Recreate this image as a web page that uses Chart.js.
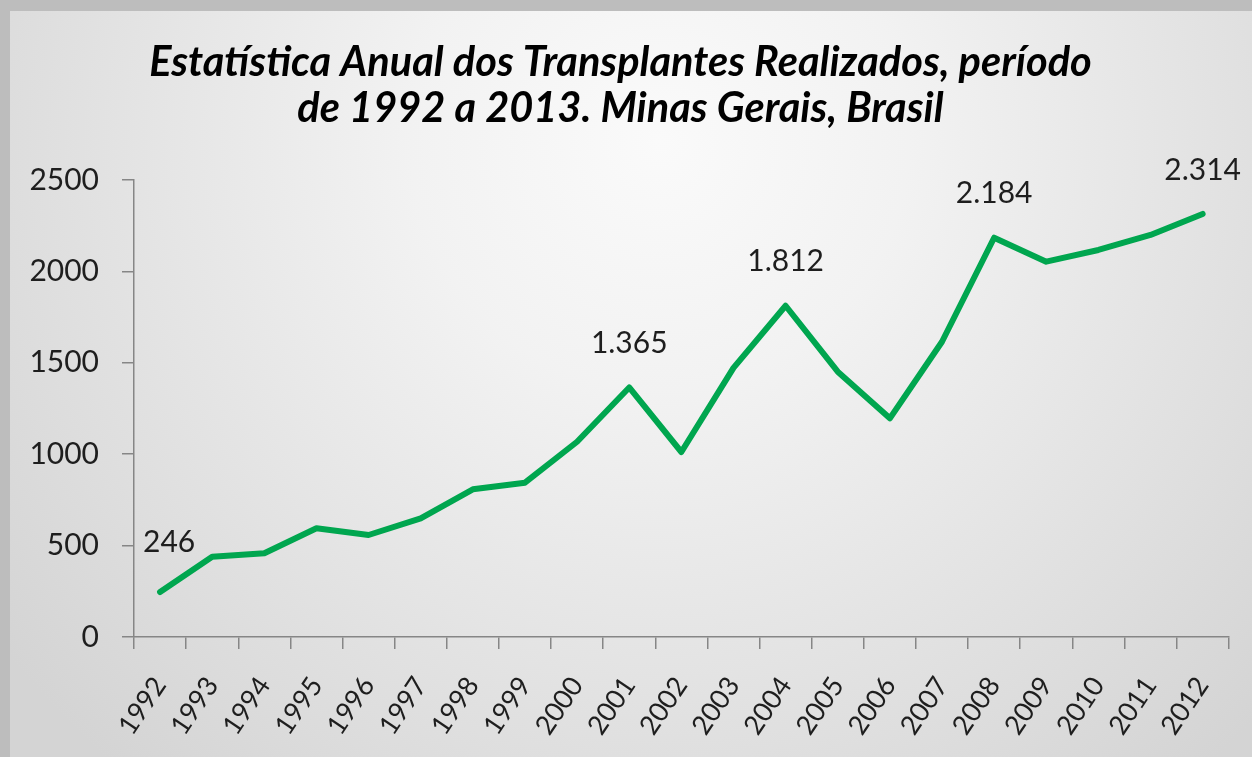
<!DOCTYPE html>
<html>
<head>
<meta charset="utf-8">
<script src="https://cdn.jsdelivr.net/npm/chart.js@4.4.1/dist/chart.umd.min.js"></script>
<style>
  html, body { margin: 0; padding: 0; width: 1252px; height: 757px; overflow: hidden; background: #bdbdbd; }
  #wrap { position: absolute; left: 10px; top: 11px; width: 1242px; height: 746px; }
</style>
</head>
<body>
<div id="wrap"><canvas id="c" width="1242" height="746"></canvas></div>
<script>
const titleLines = ["Estatística Anual dos Transplantes Realizados, período", "de 1992 a 2013. Minas Gerais, Brasil"];
const years = ["1992","1993","1994","1995","1996","1997","1998","1999","2000","2001","2002","2003","2004","2005","2006","2007","2008","2009","2010","2011","2012"];
const transplants = [246, 439, 458, 595, 558, 649, 808, 844, 1068, 1365, 1012, 1472, 1812, 1451, 1196, 1615, 2184, 2053, 2117, 2199, 2314];
const labelledYears = ["1992", "2001", "2004", "2008", "2012"];
const yTicks = [0, 500, 1000, 1500, 2000, 2500];

function fmtPt(v) {
  return String(v).replace(/\B(?=(\d{3})+(?!\d))/g, ".");
}

const bgPlugin = {
  id: 'bg',
  beforeDraw(chart) {
    const ctx = chart.ctx;
    const w = chart.width, h = chart.height;
    const g = ctx.createRadialGradient(650, 130, 0, 650, 130, 830);
    g.addColorStop(0, '#fafafa');
    g.addColorStop(0.3, '#f2f2f2');
    g.addColorStop(1, '#d4d4d4');
    ctx.save();
    ctx.fillStyle = g;
    ctx.fillRect(0, 0, w, h);
    ctx.restore();
  }
};

const labelPlugin = {
  id: 'pointLabels',
  afterDatasetsDraw(chart) {
    const ctx = chart.ctx;
    const meta = chart.getDatasetMeta(0);
    const area = chart.chartArea;
    ctx.save();
    ctx.font = '30px Lato';
    ctx.fillStyle = '#1e1e1e';
    ctx.textAlign = 'center';
    ctx.textBaseline = 'middle';
    labelledYears.forEach(y => {
      const i = years.indexOf(y);
      const el = meta.data[i];
      const txt = fmtPt(transplants[i]);
      const tw = ctx.measureText(txt).width;
      let x = Math.max(el.x, area.left + tw / 2 + 9);
      const dy = x !== el.x ? 50 : 44;
      ctx.fillText(txt, x, el.y - dy);
    });
    ctx.restore();
  }
};

new Chart(document.getElementById('c'), {
  type: 'line',
  data: {
    labels: years,
    datasets: [{
      data: transplants,
      borderColor: '#00a64f',
      borderWidth: 6,
      borderJoinStyle: 'round',
      borderCapStyle: 'round',
      pointRadius: 0,
      tension: 0,
      fill: false
    }]
  },
  options: {
    responsive: false,
    animation: false,
    events: [],
    layout: { padding: { left: 0, right: 21, top: 0, bottom: 0 } },
    plugins: {
      legend: { display: false },
      tooltip: { enabled: false },
      title: {
        display: true,
        text: titleLines,
        color: '#000',
        font: { family: 'Lato', size: 41.5, weight: 'bold', style: 'italic', lineHeight: 1.12 },
        padding: { top: 28, bottom: 48 }
      }
    },
    scales: {
      x: {
        type: 'category',
        offset: true,
        afterFit(scale) { scale.height = 120; },
        grid: { display: true, offset: true, drawOnChartArea: false, drawTicks: true, tickLength: 12, color: '#868686', lineWidth: 1.5 },
        border: { display: true, color: '#868686', width: 1.5 },
        ticks: { color: '#1e1e1e', font: { family: 'Lato', size: 27 }, minRotation: 56, maxRotation: 56, autoSkip: false, padding: 22 }
      },
      y: {
        min: 0,
        max: 2500,
        afterFit(scale) { scale.width = 124; },
        afterBuildTicks(scale) { scale.ticks = yTicks.map(v => ({ value: v })); },
        grid: { display: true, drawOnChartArea: false, drawTicks: true, tickLength: 12, color: '#868686', lineWidth: 1.5 },
        border: { display: true, color: '#868686', width: 1.5 },
        ticks: { color: '#1e1e1e', font: { family: 'Lato', size: 30 }, padding: 23, callback: v => String(v) }
      }
    }
  },
  plugins: [bgPlugin, labelPlugin]
});
</script>
</body>
</html>
